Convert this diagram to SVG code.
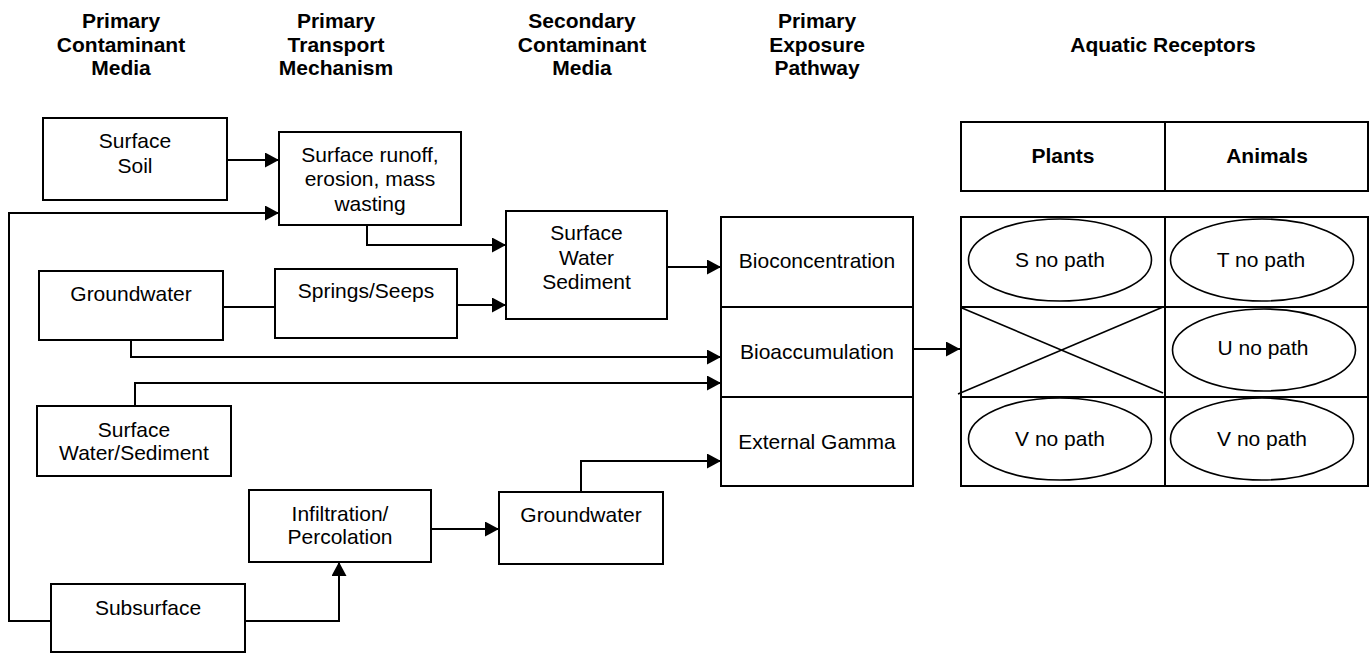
<svg xmlns="http://www.w3.org/2000/svg" width="1370" height="654" viewBox="0 0 1370 654">
<style>
  .box{fill:#fff;stroke:#000;stroke-width:2}
  .thin{fill:none;stroke:#000;stroke-width:1.6}
  .t{font-family:"Liberation Sans",Arial,sans-serif;font-size:21px;fill:#000;text-anchor:middle}
  .h{font-family:"Liberation Sans",Arial,sans-serif;font-size:21px;font-weight:bold;fill:#000;text-anchor:middle}
  .c{fill:none;stroke:#000;stroke-width:2}
</style>
<defs>
  <marker id="ah" markerWidth="16" markerHeight="16" refX="14" refY="7.5" orient="auto" markerUnits="userSpaceOnUse">
    <path d="M0,0 L14,7.5 L0,15 z" fill="#000"/>
  </marker>
</defs>
<rect width="1370" height="654" fill="#fff"/>

<g id="headers">
  <text class="h" x="121" y="28">Primary</text>
  <text class="h" x="121" y="52">Contaminant</text>
  <text class="h" x="121" y="75">Media</text>
  <text class="h" x="336" y="28">Primary</text>
  <text class="h" x="336" y="52">Transport</text>
  <text class="h" x="336" y="75">Mechanism</text>
  <text class="h" x="582" y="28">Secondary</text>
  <text class="h" x="582" y="52">Contaminant</text>
  <text class="h" x="582" y="75">Media</text>
  <text class="h" x="817" y="28">Primary</text>
  <text class="h" x="817" y="52">Exposure</text>
  <text class="h" x="817" y="75">Pathway</text>
  <text class="h" x="1163" y="52">Aquatic Receptors</text>
</g>

<g id="connectors">
  <path class="c" d="M227,160 H279" marker-end="url(#ah)"/>
  <path class="c" d="M51,621 H9 V213 H279" marker-end="url(#ah)"/>
  <path class="c" d="M367,225 V245 H506" marker-end="url(#ah)"/>
  <path class="c" d="M223,307 H275"/>
  <path class="c" d="M457,305 H506" marker-end="url(#ah)"/>
  <path class="c" d="M667,267 H721" marker-end="url(#ah)"/>
  <path class="c" d="M131,340 V357 H721" marker-end="url(#ah)"/>
  <path class="c" d="M135,406 V383 H721" marker-end="url(#ah)"/>
  <path class="c" d="M245,621 H339 V562" marker-end="url(#ah)"/>
  <path class="c" d="M431,529 H499" marker-end="url(#ah)"/>
  <path class="c" d="M581,492 V461 H721" marker-end="url(#ah)"/>
  <path class="c" d="M913,349 H960" marker-end="url(#ah)"/>
</g>

<g id="surface-soil">
  <rect class="box" x="43" y="118" width="184" height="82"/>
  <text class="t" x="135" y="148">Surface</text>
  <text class="t" x="135" y="173">Soil</text>
</g>
<g id="surface-runoff">
  <rect class="box" x="279" y="132" width="182" height="93"/>
  <text class="t" x="370" y="162">Surface runoff,</text>
  <text class="t" x="370" y="186">erosion, mass</text>
  <text class="t" x="370" y="211">wasting</text>
</g>
<g id="groundwater">
  <rect class="box" x="39" y="271" width="184" height="69"/>
  <text class="t" x="131" y="301">Groundwater</text>
</g>
<g id="springs-seeps">
  <rect class="box" x="275" y="269" width="182" height="69"/>
  <text class="t" x="366" y="298">Springs/Seeps</text>
</g>
<g id="surface-water-sediment-primary">
  <rect class="box" x="37" y="406" width="194" height="70"/>
  <text class="t" x="134" y="437">Surface</text>
  <text class="t" x="134" y="460">Water/Sediment</text>
</g>
<g id="infiltration">
  <rect class="box" x="249" y="490" width="182" height="72"/>
  <text class="t" x="340" y="521">Infiltration/</text>
  <text class="t" x="340" y="544">Percolation</text>
</g>
<g id="subsurface">
  <rect class="box" x="51" y="584" width="194" height="68"/>
  <text class="t" x="148" y="615">Subsurface</text>
</g>
<g id="surface-water-sediment-secondary">
  <rect class="box" x="506" y="211" width="161" height="108"/>
  <text class="t" x="586.5" y="240">Surface</text>
  <text class="t" x="586.5" y="265">Water</text>
  <text class="t" x="586.5" y="289">Sediment</text>
</g>
<g id="groundwater-secondary">
  <rect class="box" x="499" y="492" width="164" height="72"/>
  <text class="t" x="581" y="522">Groundwater</text>
</g>

<g id="exposure-pathways">
  <rect class="box" x="721" y="217" width="192" height="269"/>
  <line class="c" x1="721" y1="307" x2="913" y2="307"/>
  <line class="c" x1="721" y1="397" x2="913" y2="397"/>
  <text class="t" x="817" y="268">Bioconcentration</text>
  <text class="t" x="817" y="359">Bioaccumulation</text>
  <text class="t" x="817" y="449">External Gamma</text>
</g>

<g id="receptor-header">
  <rect class="box" x="961" y="122" width="407" height="69"/>
  <line class="c" x1="1165" y1="122" x2="1165" y2="191"/>
  <text class="h" x="1063" y="163">Plants</text>
  <text class="h" x="1267" y="163">Animals</text>
</g>

<g id="receptor-grid">
  <rect class="box" x="961" y="217" width="407" height="269"/>
  <line class="c" x1="1165" y1="217" x2="1165" y2="486"/>
  <line class="c" x1="961" y1="307" x2="1368" y2="307"/>
  <line class="c" x1="961" y1="397" x2="1368" y2="397"/>
  <line class="thin" x1="962" y1="308" x2="1163" y2="393"/>
  <line class="thin" x1="958" y1="394" x2="1163" y2="307"/>
</g>
<g id="s-no-path">
  <ellipse class="thin" cx="1060" cy="260" rx="91.5" ry="41"/>
  <text class="t" x="1060" y="267">S no path</text>
</g>
<g id="t-no-path">
  <ellipse class="thin" cx="1262" cy="260" rx="91.5" ry="41"/>
  <text class="t" x="1261" y="267">T no path</text>
</g>
<g id="u-no-path">
  <ellipse class="thin" cx="1264" cy="350" rx="91.5" ry="41"/>
  <text class="t" x="1263" y="355">U no path</text>
</g>
<g id="v-no-path-plants">
  <ellipse class="thin" cx="1060" cy="439" rx="91.5" ry="41"/>
  <text class="t" x="1060" y="446">V no path</text>
</g>
<g id="v-no-path-animals">
  <ellipse class="thin" cx="1262" cy="439" rx="91.5" ry="41"/>
  <text class="t" x="1262" y="446">V no path</text>
</g>
</svg>
